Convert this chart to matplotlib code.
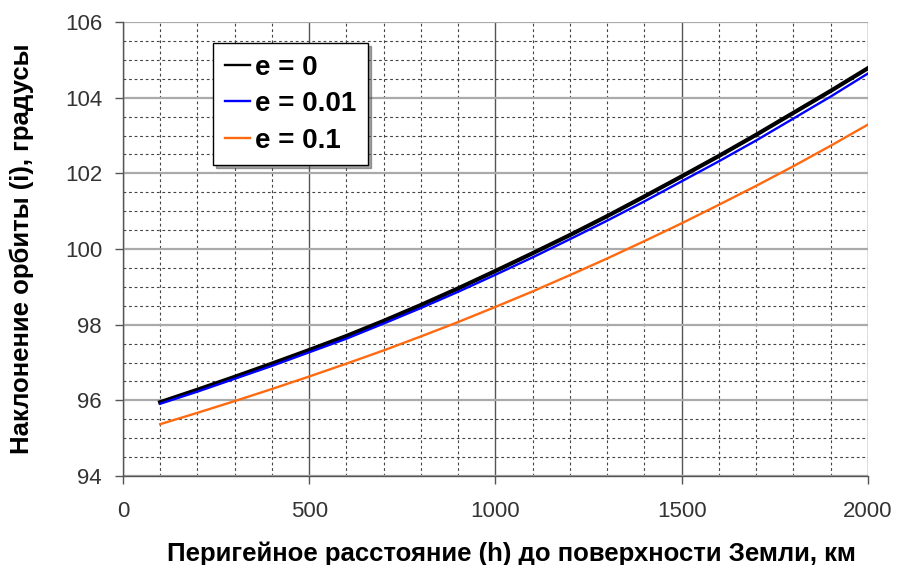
import numpy as np
import matplotlib
matplotlib.use("Agg")
import matplotlib.pyplot as plt
from matplotlib.ticker import MultipleLocator

plt.rcParams['font.family'] = ['Liberation Sans', 'DejaVu Sans']

# perigee height, km
h = [100, 200, 300, 400, 500, 600, 700, 800, 900, 1000,
     1100, 1200, 1300, 1400, 1500, 1600, 1700, 1800, 1900, 2000]

# inclination, degrees
incl_e0 = [95.95, 96.28, 96.62, 96.97, 97.33, 97.70, 98.10, 98.52, 98.96, 99.42,
           99.89, 100.37, 100.87, 101.39, 101.92, 102.46, 103.02, 103.60, 104.18, 104.78]
incl_e001 = [95.91, 96.23, 96.57, 96.91, 97.27, 97.63, 98.03, 98.44, 98.87, 99.32,
             99.78, 100.26, 100.75, 101.26, 101.79, 102.32, 102.87, 103.45, 104.03, 104.64]
incl_e01 = [95.37, 95.67, 95.98, 96.30, 96.63, 96.97, 97.32, 97.69, 98.07, 98.47,
            98.88, 99.31, 99.75, 100.21, 100.68, 101.17, 101.67, 102.19, 102.73, 103.29]

labels = ['e = 0', 'e = 0.01', 'e = 0.1']

fig = plt.figure(figsize=(8.97, 5.65), dpi=100)
ax = fig.add_axes([0.137, 0.1575, 0.8306, 0.8035])

ax.plot(h, incl_e0, color='black', lw=3.0, label=labels[0], zorder=3)
ax.plot(h, incl_e001, color='#0000ff', lw=1.7, label=labels[1], zorder=4)
ax.plot(h, incl_e01, color='#ff6a10', lw=1.7, label=labels[2], zorder=4)

ax.set_xlim(0, 2000)
ax.set_ylim(94, 106)
ax.xaxis.set_major_locator(MultipleLocator(500))
ax.xaxis.set_minor_locator(MultipleLocator(100))
ax.yaxis.set_major_locator(MultipleLocator(2))
ax.yaxis.set_minor_locator(MultipleLocator(0.5))

# grids: vertical majors dark, horizontal majors light gray, minor dashed
ax.xaxis.grid(True, which='major', color='#555555', lw=1.0)
ax.yaxis.grid(True, which='major', color='#aaaaaa', lw=1.6)
ax.grid(True, which='minor', color='#444444', lw=0.8, ls=(0, (2.5, 2.5)))
ax.set_axisbelow(True)

for s in ['top', 'right']:
    ax.spines[s].set_visible(False)
for s in ['left', 'bottom']:
    ax.spines[s].set_color('#555555')
    ax.spines[s].set_linewidth(1.0)

ax.tick_params(which='major', direction='out', length=6, width=1, color='#555555',
               labelsize=16, labelcolor='#333333')
ax.tick_params(axis='x', which='major', pad=12)
ax.tick_params(axis='y', which='major', pad=9)
ax.tick_params(which='minor', length=0)

ax.set_xlabel('Перигейное расстояние (h) до поверхности Земли, км',
              fontsize=18.5, fontweight='bold', labelpad=14)
ax.xaxis.label.set_x(0.522)
ax.set_ylabel('Наклонение орбиты (i), градусы', fontsize=18.5, fontweight='bold',
              labelpad=22)

leg = ax.legend(loc='upper left', bbox_to_anchor=(0.121, 0.954), borderaxespad=0,
                fancybox=False, shadow=True, edgecolor='black', framealpha=1,
                prop={'weight': 'bold', 'size': 20}, handlelength=0.9,
                handletextpad=0.2, labelspacing=0.38, borderpad=0.42)
leg.get_frame().set_linewidth(1.0)
for line in leg.get_lines():
    line.set_linewidth(1.7)

fig.savefig('out.png', dpi=100)
